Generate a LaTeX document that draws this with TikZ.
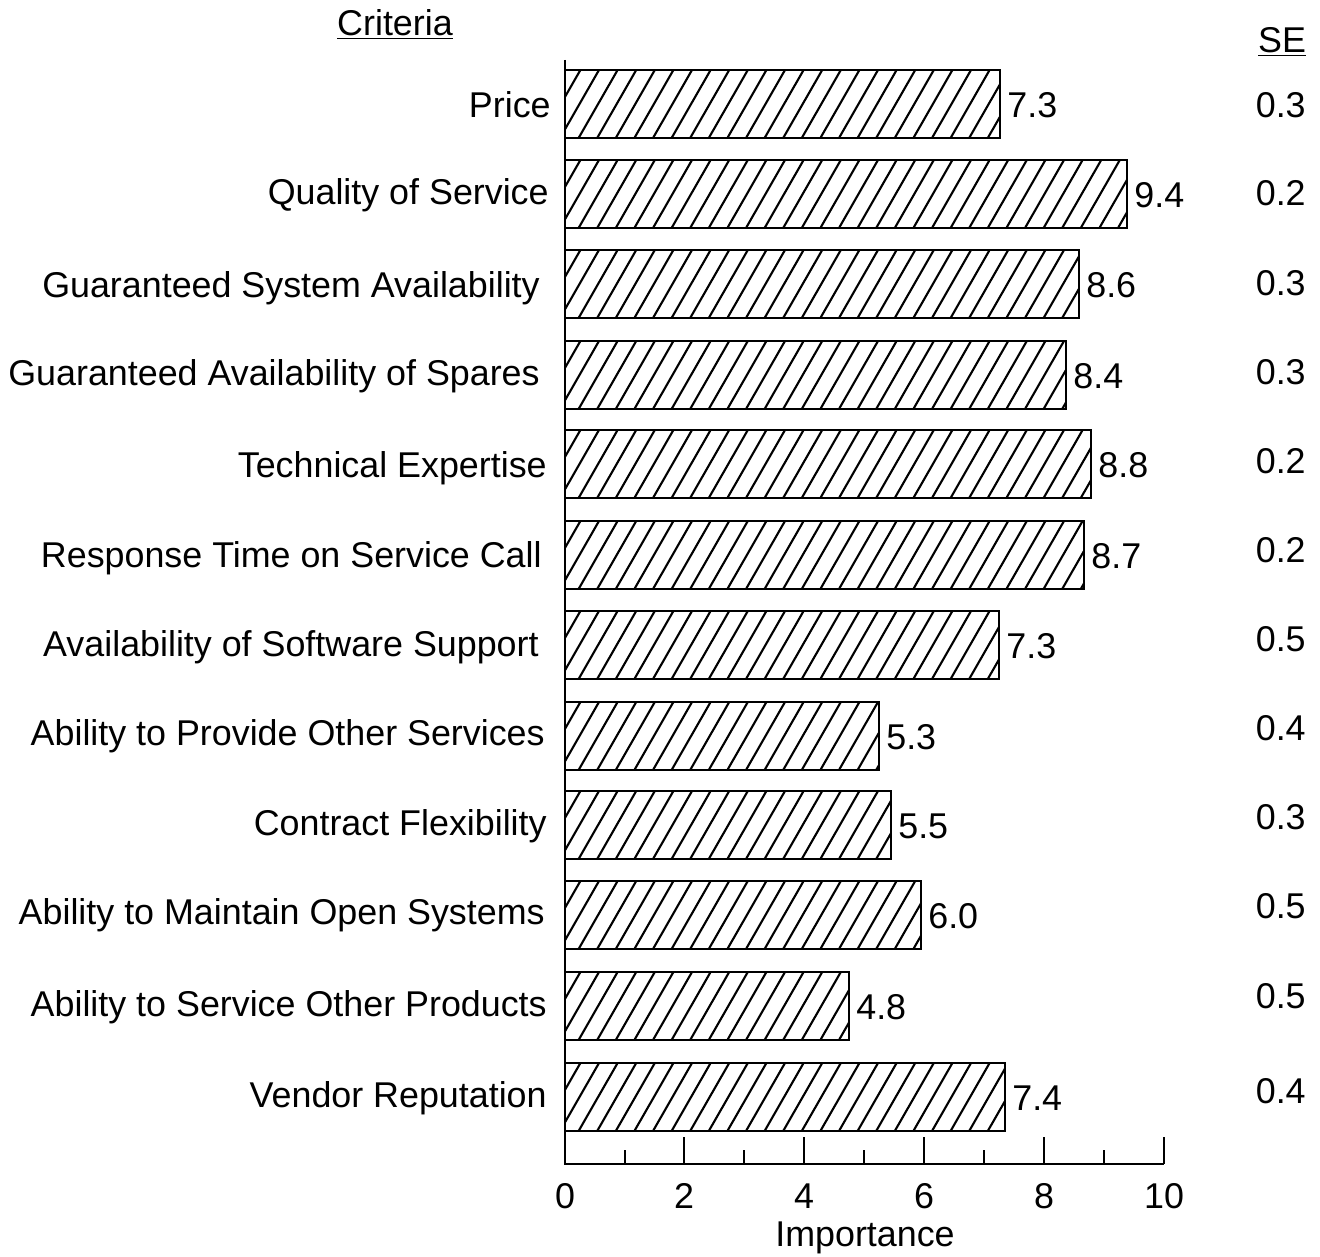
\documentclass[tikz,border=0pt]{standalone}
\usepackage{fontspec}
\setmainfont{Liberation Sans}
\begin{document}
\begin{tikzpicture}[x=0.02cm,y=-0.02cm,
  lab/.style={font=\fontsize{20.4}{24}\selectfont, inner sep=0pt},
  barbox/.style={draw=black, line width=1.6pt},
  hatch/.style={line width=1.2pt},
  axisline/.style={line width=1.6pt}]
\useasboundingbox[fill=white] (0,0) rectangle (1320,1257);
% headers
\node[lab] (hcrit) at (395,24) {\underline{Criteria}};
\node[lab] (hse) at (1282,42) {\underline{SE}};
% bars: centre y / right end x / value / label y / label right x / label / SE / SE y
\foreach \cy/\ex/\val/\ly/\lx/\txt/\se/\sy [count=\i] in {
  104/1000/7.3/102/551/Price/0.3/104,
  194/1127/9.4/192/549/Quality of Service/0.2/192,
  284/1079/8.6/285/540/Guaranteed System Availability/0.3/282,
  375/1066/8.4/373/540/Guaranteed Availability of Spares/0.3/371,
  464/1091/8.8/465/547/Technical Expertise/0.2/460,
  555/1084/8.7/555/542/Response Time on Service Call/0.2/549,
  645/999/7.3/644/539/Availability of Software Support/0.5/638,
  736/879/5.3/733/545/Ability to Provide Other Services/0.4/727,
  825/891/5.5/823/547/Contract Flexibility/0.3/816,
  915/921/6.0/912/545/Ability to Maintain Open Systems/0.5/905,
  1006/849/4.8/1004/547/Ability to Service Other Products/0.5/995,
  1097/1005/7.4/1095/547/Vendor Reputation/0.4/1090}
{
  \begin{scope}
    \clip (565,\cy-34) rectangle (\ex,\cy+34);
    \foreach \k in {-3,...,33}
      \draw[hatch] (560+\k*18.6,\cy+34) -- ++(39,-68);
  \end{scope}
  \draw[barbox] (565,\cy-34) rectangle (\ex,\cy+34);
  \node[lab, anchor=west] (v\i) at (\ex+7,\cy+1) {\val};
  \node[lab, anchor=east] (l\i) at (\lx,\ly+3) {\txt};
  \node[lab, anchor=east] (s\i) at (1306,\sy+1) {\se};
}
% axes
\draw[axisline] (565,60) -- (565,1164) -- (1164,1164);
\foreach \t/\xx in {2/684,4/804,6/924,8/1044,10/1164}
  \draw[axisline] (\xx,1137) -- (\xx,1164);
\foreach \xx in {625,744,864,984,1104}
  \draw[axisline] (\xx,1150) -- (\xx,1164);
\foreach \t/\xx in {0/565,2/684,4/804,6/924,8/1044,10/1164}
  \node[lab] (t\t) at (\xx,1196) {\t};
\node[lab] (imp) at (865,1238) {Importance};
\end{tikzpicture}
\end{document}
